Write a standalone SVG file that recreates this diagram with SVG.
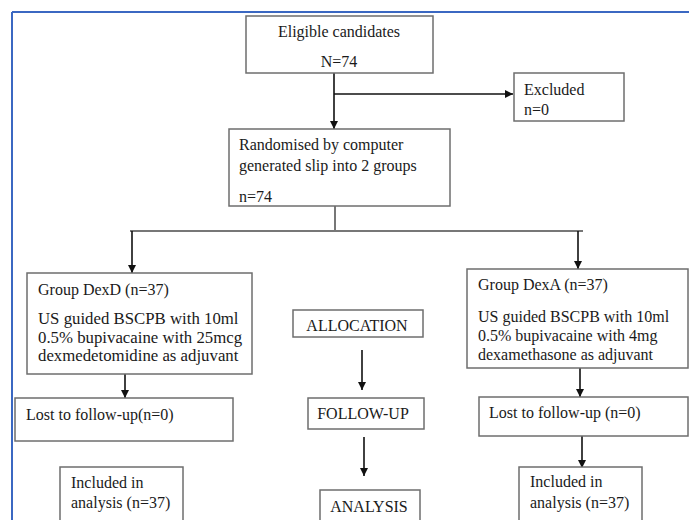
<svg xmlns="http://www.w3.org/2000/svg" width="689" height="520" viewBox="0 0 689 520">
<style>
.box{fill:#fff;stroke:#6e6e6e;stroke-width:1.5}
.t{font-family:"Liberation Serif","Times New Roman",serif;font-size:16px;fill:#1a1a1a}
.b{font-size:16.8px}
.c{text-anchor:middle}
.ln{stroke:#111;stroke-width:1.6;fill:none}
.gl{stroke:#777;stroke-width:2;fill:none}
</style>
<defs>
<marker id="ah" viewBox="0 0 10 10" refX="10" refY="5" markerWidth="8" markerHeight="8" markerUnits="userSpaceOnUse" orient="auto">
<path d="M0,0 L10,5 L0,10 Z" fill="#111"/>
</marker>
</defs>
<rect width="689" height="520" fill="#fff"/>
<g id="frame">
<line x1="12" y1="12" x2="689" y2="12" stroke="#3b68c2" stroke-width="2"/>
<line x1="12" y1="12" x2="12" y2="520" stroke="#3b68c2" stroke-width="2"/>
</g>
<g id="connectors">
<line class="ln" x1="334" y1="73" x2="334" y2="129" marker-end="url(#ah)"/>
<line class="ln" x1="334" y1="94" x2="513" y2="94" marker-end="url(#ah)"/>
<line class="gl" x1="335" y1="206" x2="335" y2="231"/>
<line class="gl" x1="130" y1="231" x2="583" y2="231"/>
<line class="ln" x1="132" y1="231" x2="132" y2="273" marker-end="url(#ah)"/>
<line class="ln" x1="578" y1="231" x2="578" y2="269" marker-end="url(#ah)"/>
<line class="ln" x1="125" y1="374" x2="125" y2="398" marker-end="url(#ah)"/>
<line class="ln" x1="580" y1="368" x2="580" y2="397" marker-end="url(#ah)"/>
<line class="ln" x1="582" y1="436" x2="582" y2="468" marker-end="url(#ah)"/>
<line class="ln" x1="362" y1="350" x2="362" y2="390" marker-end="url(#ah)"/>
<line class="ln" x1="364" y1="437" x2="364" y2="476" marker-end="url(#ah)"/>
</g>
<g id="eligible">
<rect class="box" x="246" y="16" width="187" height="57"/>
<text class="t c" x="339" y="37">Eligible candidates</text>
<text class="t c" x="339" y="67">N=74</text>
</g>
<g id="excluded">
<rect class="box" x="514" y="73" width="110" height="48"/>
<text class="t" x="524" y="95">Excluded</text>
<text class="t" x="524" y="115">n=0</text>
</g>
<g id="randomised">
<rect class="box" x="229" y="129" width="221" height="77"/>
<text class="t" x="239" y="150">Randomised by computer</text>
<text class="t" x="239" y="171">generated slip into 2 groups</text>
<text class="t" x="239" y="202">n=74</text>
</g>
<g id="dexd">
<rect class="box" x="27" y="273" width="225" height="101"/>
<text class="t" x="38" y="295">Group DexD (n=37)</text>
<text class="t b" x="38" y="324">US guided BSCPB with 10ml</text>
<text class="t b" x="38" y="343">0.5% bupivacaine with 25mcg</text>
<text class="t b" x="38" y="361">dexmedetomidine as adjuvant</text>
</g>
<g id="dexa">
<rect class="box" x="467" y="269" width="221" height="99"/>
<text class="t" x="478" y="290">Group DexA (n=37)</text>
<text class="t" x="478" y="322">US guided BSCPB with 10ml</text>
<text class="t" x="478" y="341">0.5% bupivacaine with 4mg</text>
<text class="t" x="478" y="360">dexamethasone as adjuvant</text>
</g>
<g id="lost-left">
<rect class="box" x="15" y="398" width="218" height="43"/>
<text class="t" x="26" y="420">Lost to follow-up(n=0)</text>
</g>
<g id="lost-right">
<rect class="box" x="479" y="397" width="209" height="39"/>
<text class="t" x="489" y="418">Lost to follow-up (n=0)</text>
</g>
<g id="included-left">
<rect class="box" x="60" y="467" width="123" height="55"/>
<text class="t" x="71" y="488">Included in</text>
<text class="t" x="71" y="508">analysis (n=37)</text>
</g>
<g id="included-right">
<rect class="box" x="519" y="467" width="123" height="55"/>
<text class="t" x="530" y="487">Included in</text>
<text class="t" x="530" y="508">analysis (n=37)</text>
</g>
<g id="allocation">
<rect class="box" x="293" y="310" width="130" height="27"/>
<text class="t c" x="357" y="331">ALLOCATION</text>
</g>
<g id="followup">
<rect class="box" x="308" y="398" width="116" height="31"/>
<text class="t c" x="363" y="419">FOLLOW-UP</text>
</g>
<g id="analysis">
<rect class="box" x="320" y="490" width="100" height="32"/>
<text class="t c" x="369" y="512">ANALYSIS</text>
</g>
</svg>
